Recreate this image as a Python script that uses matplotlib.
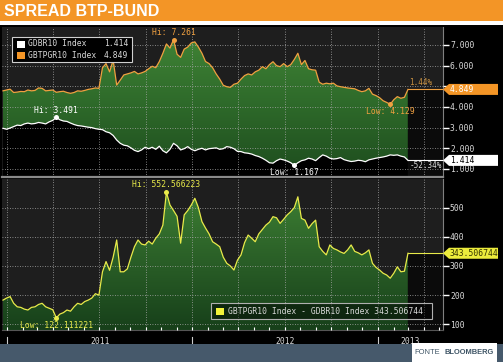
import numpy as np
import pandas as pd
import matplotlib
matplotlib.use('Agg')
import matplotlib.pyplot as plt
import matplotlib.dates as mdates
from matplotlib.patches import Rectangle, Polygon, PathPatch
from matplotlib.colors import LinearSegmentedColormap
import matplotlib.transforms as mtransforms

# ---------------- data ----------------
START = '2010-12-24'
N_WEEKS = 115
dates = pd.date_range(START, periods=N_WEEKS, freq='7D')

btp = [4.78, 4.82, 4.86, 4.70, 4.72, 4.75, 4.74, 4.82, 4.78, 4.80,
       4.92, 4.90, 4.78, 4.80, 4.82, 4.71, 4.74, 4.76, 4.70, 4.66,
       4.70, 4.78, 4.76, 4.80, 4.85, 4.88, 4.92, 4.90, 5.90, 6.10,
       5.70, 6.27, 5.06, 5.30, 5.55, 5.60, 5.65, 5.72, 5.60, 5.65,
       5.72, 5.85, 5.97, 5.90, 6.20, 6.60, 7.05, 6.85, 7.261, 6.55,
       6.40, 6.80, 6.90, 7.10, 7.15, 6.90, 6.60, 6.20, 6.10, 5.90,
       5.60, 5.35, 5.05, 4.98, 4.95, 5.10, 5.15, 5.35, 5.52, 5.60,
       5.55, 5.70, 5.78, 5.95, 5.85, 6.05, 6.19, 6.00, 5.95, 6.10,
       5.95, 6.05, 6.30, 6.60, 6.05, 6.25, 5.85, 5.80, 5.78, 5.20,
       5.10, 5.15, 5.12, 5.15, 5.02, 4.98, 4.95, 4.92, 4.90, 4.88,
       4.80, 4.74, 4.78, 4.90, 4.62, 4.55, 4.45, 4.30, 4.22, 4.129,
       4.35, 4.50, 4.42, 4.47, 4.849]

bund = [2.967, 2.92, 2.98, 3.05, 3.12, 3.10, 3.18, 3.22, 3.18, 3.20,
        3.25, 3.22, 3.18, 3.28, 3.35, 3.491, 3.38, 3.32, 3.30, 3.22,
        3.15, 3.10, 3.08, 3.05, 3.02, 3.00, 2.95, 2.92, 2.90, 2.80,
        2.75, 2.62, 2.40, 2.24, 2.15, 2.12, 2.02, 1.90, 1.84, 1.92,
        2.05, 1.98, 2.05, 1.95, 2.10, 1.88, 1.78, 1.95, 2.24, 2.12,
        1.92, 1.98, 2.08, 1.95, 1.88, 1.95, 2.00, 1.92, 1.98, 2.00,
        2.02, 1.95, 1.98, 2.08, 2.05, 1.98, 1.85, 1.84, 1.78, 1.76,
        1.72, 1.65, 1.60, 1.52, 1.42, 1.30, 1.28, 1.40, 1.48, 1.44,
        1.38, 1.30, 1.167, 1.30, 1.40, 1.44, 1.52, 1.48, 1.40, 1.55,
        1.68, 1.62, 1.52, 1.48, 1.50, 1.55, 1.45, 1.40, 1.36, 1.38,
        1.42, 1.40, 1.35, 1.44, 1.48, 1.52, 1.55, 1.58, 1.62, 1.68,
        1.66, 1.68, 1.62, 1.58, 1.414]

spread = [183, 190, 195, 172, 160, 158, 152, 149, 158, 160,
          168, 172, 160, 155, 150, 122.111221, 135, 140, 149, 145,
          160, 172, 168, 178, 183, 190, 205, 200, 280, 315,
          285, 330, 389, 280, 280, 290, 330, 366, 389, 375,
          372, 385, 375, 395, 410, 440, 552.566223, 509, 490, 470,
          378, 475, 490, 509, 532, 500, 452, 430, 410, 383,
          375, 366, 330, 309, 300, 286, 320, 338, 380, 406,
          395, 383, 410, 425, 440, 450, 469, 465, 446, 460,
          475, 486, 500, 537, 463, 457, 429, 445, 457, 366,
          350, 338, 372, 360, 355, 348, 343, 355, 372, 350,
          345, 338, 345, 355, 309, 295, 286, 275, 269, 258,
          275, 297, 280, 282, 343.506744]

SERIES_NAMES = ['GDBR10 Index', 'GBTPGR10 Index']
SPREAD_NAME = 'GBTPGR10 Index - GDBR10 Index'
TITLE = 'SPREAD BTP-BUND'
SOURCE_LIGHT = 'FONTE'
SOURCE_BOLD = 'BLOOMBERG'
YEAR_LABELS = ['2011', '2012', '2013']
TOP_TICKS = [1, 2, 3, 4, 5, 6, 7]
BOTTOM_TICKS = [100, 200, 300, 400, 500]

# ---------------- styling ----------------
W, H = 503, 362
MONO = 'DejaVu Sans Mono'
ORANGE = '#f39526'
BTP_C = '#f0a040'
BUND_C = '#ffffff'
SPR_C = '#e8ea4a'
TXT = '#d9d9d9'
BG = '#1e1e1e'

def fx(p):
    return p / W

def fy(p):
    return 1 - p / H

fig = plt.figure(figsize=(W / 100, H / 100), dpi=100, facecolor='black')

# header & footer
fig.patches.append(Rectangle((0, fy(21)), 1, 21 / H, transform=fig.transFigure,
                             facecolor=ORANGE, edgecolor='none', zorder=0))
fig.patches.append(Rectangle((0, fy(25)), 1, 4 / H, transform=fig.transFigure,
                             facecolor='white', edgecolor='none', zorder=0))
fig.patches.append(Rectangle((0, 0), 1, 18 / H, transform=fig.transFigure,
                             facecolor='#46596b', edgecolor='none', zorder=0))
fig.patches.append(Rectangle((fx(412), 0), 85 / W, 19 / H, transform=fig.transFigure,
                             facecolor='white', edgecolor='none', zorder=1))
fig.text(fx(4), fy(11.5), TITLE, color='white', fontsize=11.5, fontweight='bold',
         family='Liberation Sans', va='center', ha='left')
fig.text(fx(414), fy(353), SOURCE_LIGHT, color='#3f5566', fontsize=5.4,
         family='Liberation Sans', va='center', ha='left')
fig.text(fx(494), fy(353), SOURCE_BOLD, color='#3f5566', fontsize=5.4, fontweight='bold',
         family='Liberation Sans', va='center', ha='right')

x = mdates.date2num(dates)
XL = mdates.date2num(pd.Timestamp('2010-12-22'))
XR = mdates.date2num(pd.Timestamp('2013-05-09'))

ax1 = fig.add_axes([fx(2), fy(177), 441 / W, 150 / H])
ax2 = fig.add_axes([fx(2), fy(330), 441 / W, 151 / H])

green_top = LinearSegmentedColormap.from_list('g1', ['#1f4f1f', '#2e6a2a', '#3f8235'])
green_bot = LinearSegmentedColormap.from_list('g2', ['#17401a', '#2a5f27', '#3d7f33'])

def gradient_fill(ax, xs, lo, hi, cmap, ylo, yhi):
    poly = ax.fill_between(xs, lo, hi, facecolor='none', edgecolor='none')
    path = poly.get_paths()[0]
    patch = PathPatch(path, transform=ax.transData, facecolor='none', edgecolor='none')
    ax.add_patch(patch)
    grad = np.linspace(0, 1, 256).reshape(-1, 1)
    im = ax.imshow(grad, extent=[xs[0], xs[-1], ylo, yhi], aspect='auto', origin='lower',
                   cmap=cmap, zorder=1, interpolation='bilinear')
    im.set_clip_path(patch)

for ax in (ax1, ax2):
    ax.set_facecolor(BG)
    for s in ('left', 'top', 'bottom'):
        ax.spines[s].set_visible(False)
    ax.spines['right'].set_color('#808080')
    ax.spines['right'].set_linewidth(0.8)
    ax.yaxis.tick_right()
    ax.tick_params(axis='y', colors='white', labelcolor=TXT, length=4, width=1,
                   pad=1, labelsize=5.8, direction='out')
    ax.xaxis.set_major_locator(mdates.MonthLocator(bymonth=[1, 4, 7, 10]))
    ax.xaxis.set_minor_locator(mdates.MonthLocator())
    ax.grid(True, which='major', color='#a8a8a8', linestyle=(0, (1, 2)), linewidth=0.6)
    ax.set_axisbelow(False)

# ---- top panel ----
Y1 = (0.61, 7.87)
ax1.fill_between(x, Y1[0], bund, color='black', zorder=1)
gradient_fill(ax1, x, bund, btp, green_top, 1.0, 7.3)
ax1.fill_between([x[-1], XR], Y1[0], [btp[-1], btp[-1]], color='#0b0b0b', zorder=1)
ax1.plot(x, btp, color=BTP_C, lw=0.9, zorder=3)
ax1.plot(x, bund, color=BUND_C, lw=0.9, zorder=3)
ax1.plot([x[-1], XR], [btp[-1]] * 2, color=BTP_C, lw=0.8, zorder=3)
ax1.plot([x[-1], XR], [bund[-1]] * 2, color=BUND_C, lw=0.8, zorder=3)
ax1.set_xlim(XL, XR)
ax1.set_ylim(*Y1)
ax1.set_yticks(TOP_TICKS)
ax1.set_yticklabels(['%.3f' % v for v in TOP_TICKS], family=MONO)
ax1.tick_params(axis='x', which='both', length=0, labelbottom=False)
ax1.spines['bottom'].set_visible(True)
ax1.spines['bottom'].set_color('#8a8a8a')
ax1.spines['bottom'].set_linewidth(1.6)

# ---- bottom panel ----
Y2 = (80.5, 598)
gradient_fill(ax2, x, np.full(len(x), Y2[0]), spread, green_bot, Y2[0], 560)
ax2.fill_between([x[-1], XR], Y2[0], [spread[-1]] * 2, color='#0b0b0b', zorder=1)
ax2.plot(x, spread, color=SPR_C, lw=0.9, zorder=3)
ax2.plot([x[-1], XR], [spread[-1]] * 2, color=SPR_C, lw=0.8, zorder=3)
ax2.set_xlim(XL, XR)
ax2.set_ylim(*Y2)
ax2.set_yticks(BOTTOM_TICKS)
ax2.set_yticklabels(['%d' % v for v in BOTTOM_TICKS], family=MONO)
ax2.tick_params(axis='x', which='both', direction='in', length=2, width=0.8,
                colors='white', labelbottom=False)
ax2.spines['bottom'].set_visible(True)
ax2.spines['bottom'].set_color('#555555')

# year separators and labels
trans2 = mtransforms.blended_transform_factory(ax2.transData, ax2.transAxes)
year_starts = [mdates.date2num(pd.Timestamp(y + '-01-01')) for y in YEAR_LABELS]
bounds = year_starts + [XR]
for i, lab in enumerate(YEAR_LABELS):
    ax2.plot([year_starts[i]] * 2, [-7 / 151, -15 / 151], color='#cccccc', lw=0.8,
             transform=trans2, clip_on=False)
    cx = (bounds[i] + bounds[i + 1]) / 2
    ax2.text(cx, -11 / 151, lab, transform=trans2, ha='center', va='center',
             color=TXT, fontsize=5.8, family=MONO)

# ---- extremes annotations ----
def mark(ax, xs, ys, idx, color, label, above):
    ax.plot(xs[idx], ys[idx], 'o', ms=3.6, color=color, zorder=5, mec='none')
    ax.annotate(label, (xs[idx], ys[idx]), xytext=(0, 2 if above else -2),
                textcoords='offset points', ha='center',
                va='bottom' if above else 'top', color=color, fontsize=5.8,
                family=MONO, zorder=6)

btp_a, bund_a, spr_a = np.array(btp), np.array(bund), np.array(spread)
i = int(np.argmax(btp_a)); mark(ax1, x, btp_a, i, BTP_C, 'Hi: %.3f' % btp_a[i], True)
i = int(np.argmin(btp_a)); mark(ax1, x, btp_a, i, BTP_C, 'Low: %.3f' % btp_a[i], False)
i = int(np.argmax(bund_a)); mark(ax1, x, bund_a, i, BUND_C, 'Hi: %.3f' % bund_a[i], True)
i = int(np.argmin(bund_a)); mark(ax1, x, bund_a, i, BUND_C, 'Low: %.3f' % bund_a[i], False)
i = int(np.argmax(spr_a)); mark(ax2, x, spr_a, i, SPR_C, 'Hi: %.6f' % spr_a[i], True)
i = int(np.argmin(spr_a)); mark(ax2, x, spr_a, i, SPR_C, 'Low: %.6f' % spr_a[i], False)

# percent change labels near end
pct_btp = (btp_a[-1] / btp_a[0] - 1) * 100
pct_bund = (bund_a[-1] / bund_a[0] - 1) * 100
ax1.annotate('%.2f%%' % pct_btp, (x[-1], btp_a[-1]), xytext=(1, 1.5),
             textcoords='offset points', ha='left', va='bottom', color='#c89040',
             fontsize=5.5, family=MONO, zorder=6)
ax1.annotate('%.2f%%' % pct_bund, (x[-1], bund_a[-1]), xytext=(1, -0.5),
             textcoords='offset points', ha='left', va='top', color=TXT,
             fontsize=5.5, family=MONO, zorder=6)

# ---- last value tags ----
fig.canvas.draw()
inv = fig.transFigure.inverted()

def tag(ax, val, text, face, tcol):
    _, ydisp = ax.transData.transform((x[-1], val))
    yf = inv.transform((0, ydisp))[1]
    h = 5.5 / H
    x0, x1, xa = fx(449), fx(498), fx(443)
    poly = Polygon([(xa, yf), (x0, yf + h), (x1, yf + h), (x1, yf - h), (x0, yf - h)],
                   closed=True, transform=fig.transFigure, facecolor=face,
                   edgecolor='none', zorder=10)
    fig.patches.append(poly)
    fig.text(fx(450), yf, text, color=tcol, fontsize=5.8, family=MONO,
             va='center', ha='left', zorder=11)
    # hide tick labels covered by the tag
    for lbl in ax.get_yticklabels():
        _, ly = ax.transData.transform((x[-1], lbl.get_position()[1]))
        if abs(ly - ydisp) < 6:
            lbl.set_visible(False)

tag(ax1, btp_a[-1], '%.3f' % btp_a[-1], ORANGE, 'white')
tag(ax1, bund_a[-1], '%.3f' % bund_a[-1], 'white', 'black')
tag(ax2, spr_a[-1], '%.6f' % spr_a[-1], '#ecec3c', '#333300')

# ---- legends ----
fig.patches.append(Rectangle((fx(12), fy(62)), 120 / W, 25 / H, transform=fig.transFigure,
                             facecolor='black', edgecolor='#d0d0d0', lw=0.8, zorder=10))
leg_vals = [bund_a[-1], btp_a[-1]]
leg_cols = [BUND_C, ORANGE]
for k, (nm, v, c) in enumerate(zip(SERIES_NAMES, leg_vals, leg_cols)):
    yc = 44 + k * 11
    fig.patches.append(Rectangle((fx(17), fy(yc + 3.5)), 8 / W, 7 / H,
                                 transform=fig.transFigure, facecolor=c,
                                 edgecolor='none', zorder=11))
    fig.text(fx(28), fy(yc), nm, color=TXT, fontsize=5.8, family=MONO,
             va='center', ha='left', zorder=12)
    fig.text(fx(128), fy(yc), '%.3f' % v, color=TXT, fontsize=5.8, family=MONO,
             va='center', ha='right', zorder=12)

fig.patches.append(Rectangle((fx(211), fy(319)), 221 / W, 16 / H, transform=fig.transFigure,
                             facecolor='black', alpha=0.45, edgecolor='none', zorder=10))
fig.patches.append(Rectangle((fx(211), fy(319)), 221 / W, 16 / H, transform=fig.transFigure,
                             facecolor='none', edgecolor='#b0b0b0', lw=0.8, zorder=10))
fig.patches.append(Rectangle((fx(216), fy(314.5)), 8 / W, 7 / H, transform=fig.transFigure,
                             facecolor='#f2f23a', edgecolor='none', zorder=11))
fig.text(fx(228), fy(311), '%s %.6f' % (SPREAD_NAME, spr_a[-1]), color=TXT,
         fontsize=5.8, family=MONO, va='center', ha='left', zorder=12)

fig.savefig('out.png', dpi=100, facecolor='black')
